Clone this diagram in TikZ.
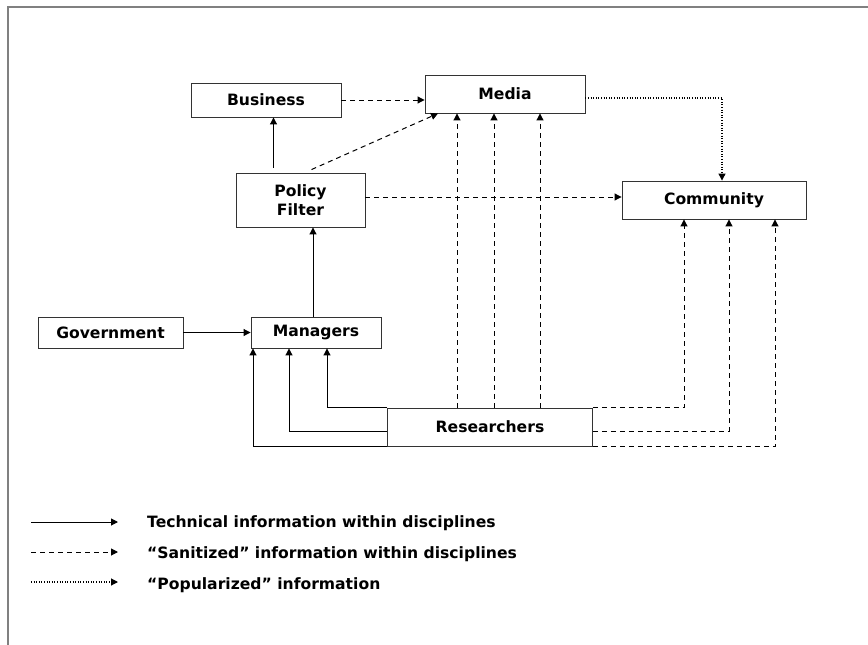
\documentclass[tikz,border=0pt]{standalone}
\usepackage{fontspec}
\setmainfont{DejaVu Sans}
\usetikzlibrary{arrows.meta}
\begin{document}
\begin{tikzpicture}[x=1pt,y=-1pt,
  box/.style={draw=black!80, line width=0.9pt, fill=white, inner sep=0pt,
    font=\fontsize{15.6}{18.5}\selectfont\bfseries, align=center},
  tip/.style={-{Triangle[length=7pt,width=7pt]}},
  sol/.style={tip, line width=1pt},
  dsh/.style={tip, line width=1pt, dash pattern=on 5pt off 4pt},
  dtt/.style={tip, line width=1.1pt, dash pattern=on 1pt off 1.6pt},
  leg/.style={anchor=west, inner sep=0pt, font=\fontsize{15.6}{18.5}\selectfont\bfseries}]
\useasboundingbox (0,0) rectangle (868,645);
\fill[white] (0,0) rectangle (868,645);
\draw[gray, line width=1.5pt] (8,645) -- (8,7) -- (868,7);

\node[box, minimum width=150pt, minimum height=34pt] (bus) at (266,100) {Business};
\node[box, minimum width=160pt, minimum height=38pt] (media) at (505,94) {Media};
\node[box, minimum width=129pt, minimum height=54pt] (pol) at (300.5,200) {Policy\\Filter};
\node[box, minimum width=184pt, minimum height=38pt] (com) at (714,200) {Community};
\node[box, minimum width=145pt, minimum height=31pt] (gov) at (110.5,332.5) {Government};
\node[box, minimum width=130pt, minimum height=31pt] (man) at (316,332.5) {Managers};
\node[box, minimum width=205pt, minimum height=38pt] (res) at (490,427) {Researchers};

% top part
\draw[dsh] (bus.east) -- (bus.east -| media.west);
\draw[sol] ([xshift=-27pt,yshift=5pt]pol.north) -- ([xshift=-27pt]pol.north |- bus.south);
\draw[dsh] ([xshift=11pt,yshift=3pt]pol.north) -- ([xshift=-67pt]media.south);
\draw[dsh] ([yshift=3pt]pol.east) -- ([yshift=3pt]pol.east -| com.west);
\draw[sol] ([xshift=-3pt]man.north) -- ([xshift=-3pt]man.north |- pol.south);
\draw[sol] (gov.east) -- (man.west);
\draw[dtt] ([yshift=-4pt]media.east) -| ([xshift=8pt]com.north);

% researchers to media
\draw[dsh] ([xshift=-33pt]res.north) -- ([xshift=-33pt]res.north |- media.south);
\draw[dsh] ([xshift=4pt]res.north) -- ([xshift=4pt]res.north |- media.south);
\draw[dsh] ([xshift=50pt]res.north) -- ([xshift=50pt]res.north |- media.south);

% researchers to managers
\draw[sol] (res.north west) -| ([xshift=11pt]man.south);
\draw[sol] ([yshift=-4pt]res.west) -| ([xshift=-27pt]man.south);
\draw[sol] (res.south west) -| ([xshift=-63pt]man.south);

% researchers to community
\draw[dsh] (res.north east) -| ([xshift=-30pt]com.south);
\draw[dsh] ([yshift=-4pt]res.east) -| ([xshift=15pt]com.south);
\draw[dsh] (res.south east) -| ([xshift=61pt]com.south);

% legend
\coordinate (a1) at (31,522); \coordinate (b1) at (118,522);
\coordinate (a2) at (31,552); \coordinate (b2) at (118,552);
\coordinate (a3) at (31,582); \coordinate (b3) at (118,582);
\draw[sol] (a1) -- (b1);
\draw[dsh] (a2) -- (b2);
\draw[dtt] (a3) -- (b3);
\node[leg] (t1) at (147,523) {Technical information within disciplines};
\node[leg] (t2) at (147,554) {“Sanitized” information within disciplines};
\node[leg] (t3) at (147,585) {“Popularized” information};
\end{tikzpicture}
\end{document}
